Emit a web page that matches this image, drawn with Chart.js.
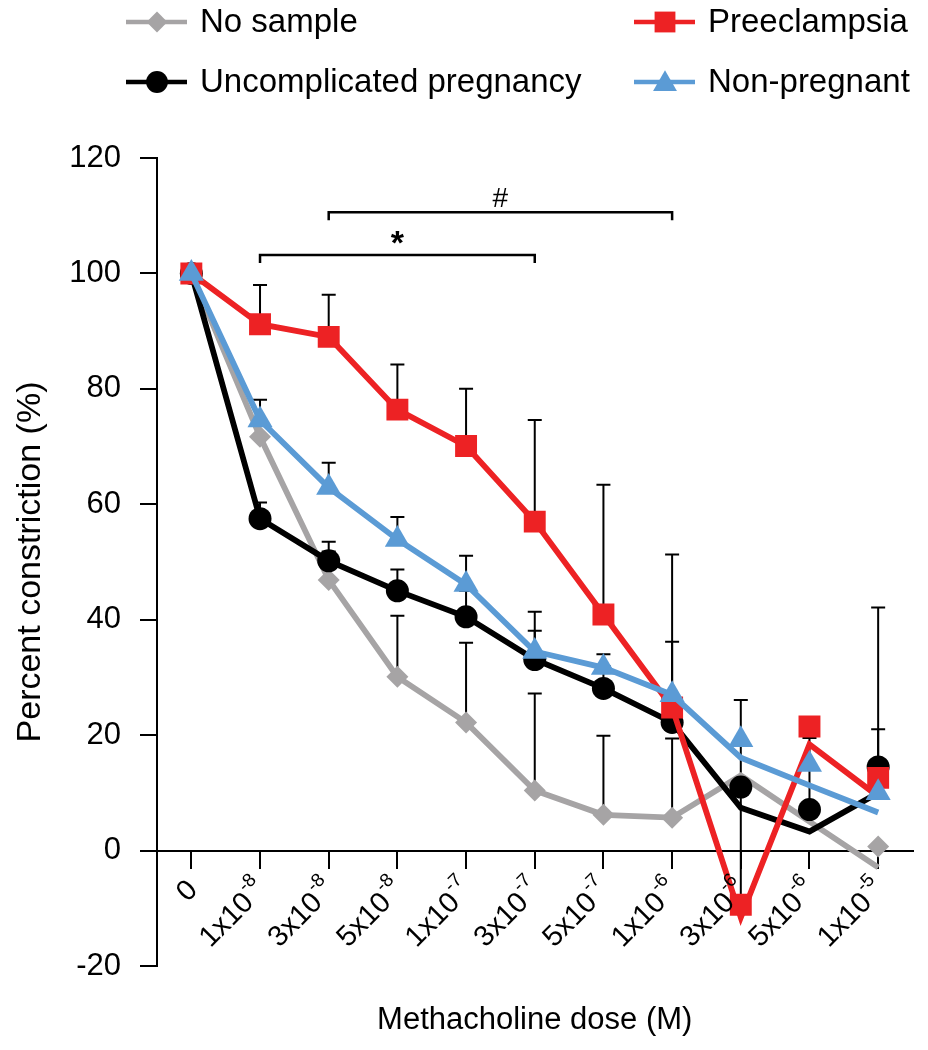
<!DOCTYPE html>
<html>
<head>
<meta charset="utf-8">
<script src="https://cdn.jsdelivr.net/npm/chart.js@4.4.1/dist/chart.umd.min.js"></script>
<style>
html,body{margin:0;padding:0;background:#fff;}
canvas{display:block;}
</style>
</head>
<body>
<canvas id="c" width="928" height="1050"></canvas>
<script>
// ---------- DATA ----------
// tick labels: base ^ exponent
const categories = ['0','1x10^-8','3x10^-8','5x10^-8','1x10^-7','3x10^-7','5x10^-7','1x10^-6','3x10^-6','5x10^-6','1x10^-5'];

const seriesNames = ['No sample', 'Uncomplicated pregnancy', 'Preeclampsia', 'Non-pregnant'];

// No sample (grey)
const noSampleLine    = [100, 71.7, 46.9, 30.1, 22.2, 10.4, 6.2, 5.7, 13.0, 5.0, -2.9];
const noSampleMarkers = [100, 71.7, 46.9, 30.1, 22.2, 10.4, 6.2, 5.7, null, null, 0.7];
const noSampleErrTop  = [null, null, 51.8, 40.7, 36.0, 27.2, 19.9, 19.4, null, null, null];

// Uncomplicated pregnancy (black)
const uncompLine    = [100, 57.5, 50.2, 45.0, 40.5, 33.1, 28.1, 22.2, 7.4, 3.3, 10.0];
const uncompMarkers = [100, 57.5, 50.2, 45.0, 40.5, 33.1, 28.1, 22.2, 11.0, 7.1, 14.5];
const uncompErrTop  = [null, 60.3, 53.5, 48.7, 45.0, 38.1, 32.0, 26.0, null, 19.5, 21.0];

// Preeclampsia (red)
const preLine    = [100, 91.2, 89.0, 76.4, 70.1, 57.0, 40.9, 24.8, -11.6, 18.4, 9.4];
const preMarkers = [100, 91.2, 89.0, 76.4, 70.1, 57.0, 40.9, 24.8, -9.4, 21.5, 12.6];
const preErrTop  = [null, 98.0, 96.3, 84.2, 80.0, 74.6, 63.4, 51.3, 26.1, null, 42.1];

// Non-pregnant (blue)
const nonPregLine    = [100, 74.6, 62.9, 53.9, 46.1, 34.5, 31.7, 27.0, 16.1, 11.3, 6.6];
const nonPregMarkers = [100, 74.6, 62.9, 53.9, 46.1, 34.5, 31.7, 27.0, 19.2, 14.9, 10.0];
const nonPregErrTop  = [null, 78.1, 67.2, 57.8, 51.1, 41.4, 34.0, 36.2, null, null, null];

// significance brackets (category index range, y value)
const bracketFrom   = [1, 2];
const bracketTo     = [5, 7];
const bracketY      = [103.2, 110.6];
const bracketLabels = ['*', '#'];

const yMin = -20, yMax = 120, yStep = 20;

// ---------- STYLE ----------
const FONT = "'Liberation Sans', Arial, Helvetica, sans-serif";
const GREY = '#a6a4a5', BLACK = '#000000', RED = '#ed2224', BLUE = '#5b9bd5';

const series = [
  {name: seriesNames[0], line: noSampleLine, markers: noSampleMarkers, err: noSampleErrTop, color: GREY,  style: 'rectRot',  r: 11,   z: 7},
  {name: seriesNames[1], line: uncompLine,   markers: uncompMarkers,   err: uncompErrTop,   color: BLACK, style: 'circle',   r: 11.5, z: 5},
  {name: seriesNames[2], line: preLine,      markers: preMarkers,      err: preErrTop,      color: RED,   style: 'rect',     r: 15.5, z: 3},
  {name: seriesNames[3], line: nonPregLine,  markers: nonPregMarkers,  err: nonPregErrTop,  color: BLUE,  style: 'triangle', r: 14.5, z: 1}
];

const datasets = [];
series.forEach(s => {
  datasets.push({
    label: s.name + ' line', data: s.line, borderColor: s.color, backgroundColor: s.color,
    borderWidth: 5.8, pointRadius: 0, pointHoverRadius: 0, tension: 0, fill: false,
    borderJoinStyle: 'miter', order: s.z + 1
  });
  datasets.push({
    label: s.name, data: s.markers, showLine: false, pointStyle: s.style,
    pointRadius: s.r, pointHoverRadius: s.r, pointBackgroundColor: s.color,
    pointBorderColor: s.color, pointBorderWidth: 0, order: s.z
  });
});

function drawMarker(ctx, style, x, y, r, color) {
  if (Chart.helpers && Chart.helpers.drawPoint) {
    ctx.save();
    ctx.fillStyle = color; ctx.strokeStyle = color; ctx.lineWidth = 0;
    Chart.helpers.drawPoint(ctx, {pointStyle: style, radius: r, rotation: 0, borderWidth: 0}, x, y);
    ctx.restore();
  }
}

const errorBarPlugin = {
  id: 'errorBars',
  beforeDatasetsDraw(chart) {
    const xs = chart.scales.x, ys = chart.scales.y, ctx = chart.ctx;
    ctx.save();
    ctx.strokeStyle = '#000'; ctx.lineWidth = 2;
    series.forEach(s => {
      s.err.forEach((top, i) => {
        const m = s.markers[i];
        if (top == null || m == null) return;
        const px = xs.getPixelForValue(i);
        const y0 = ys.getPixelForValue(m), y1 = ys.getPixelForValue(top);
        ctx.beginPath();
        ctx.moveTo(px, y0); ctx.lineTo(px, y1);
        ctx.moveTo(px - 7, y1); ctx.lineTo(px + 7, y1);
        ctx.stroke();
      });
    });
    ctx.restore();
  }
};

const bracketPlugin = {
  id: 'brackets',
  afterDatasetsDraw(chart) {
    const xs = chart.scales.x, ys = chart.scales.y, ctx = chart.ctx;
    ctx.save();
    ctx.strokeStyle = '#000'; ctx.fillStyle = '#000'; ctx.lineWidth = 2.5;
    bracketFrom.forEach((f, k) => {
      const x0 = xs.getPixelForValue(f), x1 = xs.getPixelForValue(bracketTo[k]);
      const y = ys.getPixelForValue(bracketY[k]);
      ctx.beginPath();
      ctx.moveTo(x0, y + 8); ctx.lineTo(x0, y); ctx.lineTo(x1, y); ctx.lineTo(x1, y + 8);
      ctx.stroke();
      ctx.textAlign = 'center'; ctx.textBaseline = 'alphabetic';
      if (bracketLabels[k] === '*') {
        ctx.font = 'bold 34px ' + FONT;
        ctx.fillText(bracketLabels[k], (x0 + x1) / 2, y - 1);
      } else {
        ctx.font = '28px ' + FONT;
        ctx.fillText(bracketLabels[k], (x0 + x1) / 2, y - 5);
      }
    });
    ctx.restore();
  }
};

const xLabelPlugin = {
  id: 'xLabels',
  afterDraw(chart) {
    const xs = chart.scales.x, ys = chart.scales.y, ctx = chart.ctx;
    const axisY = ys.getPixelForValue(0);
    ctx.save();
    ctx.fillStyle = '#000';
    categories.forEach((lab, i) => {
      const parts = lab.split('^');
      const base = parts[0], exp = parts[1] || '';
      const px = xs.getPixelForValue(i);
      ctx.save();
      ctx.translate(px + 2, axisY + 35);
      ctx.rotate(-Math.PI / 4);
      ctx.textAlign = 'right'; ctx.textBaseline = 'middle';
      ctx.font = '19px ' + FONT;
      const sw = exp ? ctx.measureText(exp).width : 0;
      if (exp) ctx.fillText(exp, 0, -12);
      ctx.font = '29px ' + FONT;
      ctx.fillText(base, exp ? -sw - 1 : 0, 0);
      ctx.restore();
    });
    ctx.restore();
  }
};

const legendPlugin = {
  id: 'customLegend',
  afterDraw(chart) {
    const ctx = chart.ctx;
    const order = [0, 2, 1, 3];
    const colX = [126, 634], rowY = [22, 82];
    ctx.save();
    order.forEach((si, k) => {
      const s = series[si];
      const x = colX[k % 2], y = rowY[Math.floor(k / 2)];
      ctx.strokeStyle = s.color; ctx.lineWidth = 4.5;
      ctx.beginPath(); ctx.moveTo(x, y); ctx.lineTo(x + 61, y); ctx.stroke();
      drawMarker(ctx, s.style, x + 31, y + (s.style === 'triangle' ? 2 : 0), s.r * 0.95, s.color);
      ctx.fillStyle = '#000';
      ctx.font = '33px ' + FONT;
      ctx.textAlign = 'left'; ctx.textBaseline = 'middle';
      ctx.fillText(s.name, x + 74, y + 1);
    });
    ctx.restore();
  }
};

new Chart(document.getElementById('c'), {
  type: 'line',
  data: { labels: categories, datasets: datasets },
  options: {
    responsive: false,
    animation: false,
    events: [],
    layout: { padding: { top: 158, bottom: 84, left: 0, right: 9 } },
    plugins: { legend: { display: false }, tooltip: { enabled: false } },
    scales: {
      x: {
        type: 'category',
        offset: true,
        position: { y: 0 },
        grid: { offset: false, drawOnChartArea: false, drawTicks: true, tickLength: 17, color: '#000', lineWidth: 2 },
        border: { display: true, color: '#000', width: 2 },
        ticks: { display: false, autoSkip: false },
        title: { display: true, text: 'Methacholine dose (M)', color: '#000', font: { family: FONT, size: 31 }, padding: { top: 134, bottom: 0 } }
      },
      y: {
        min: yMin, max: yMax,
        ticks: { stepSize: yStep, color: '#000', font: { family: FONT, size: 31 }, padding: 19 },
        grid: { drawOnChartArea: false, drawTicks: true, tickLength: 17, color: '#000', lineWidth: 2 },
        border: { display: true, color: '#000', width: 2 },
        title: { display: true, text: 'Percent constriction (%)', color: '#000', font: { family: FONT, size: 34 }, padding: { top: 10, bottom: 0 } },
        afterFit(scale) { scale.width = 157; }
      }
    }
  },
  plugins: [errorBarPlugin, bracketPlugin, xLabelPlugin, legendPlugin]
});
</script>
</body>
</html>
